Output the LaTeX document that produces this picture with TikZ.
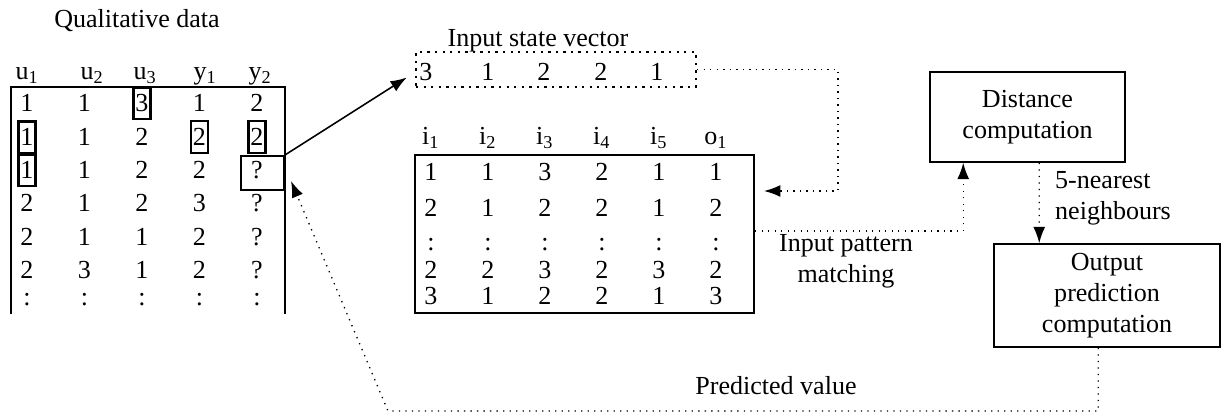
\documentclass[tikz,border=0pt]{standalone}
\usepackage{fontspec}
\setmainfont{Liberation Serif}
\usetikzlibrary{arrows.meta,fit}
\tikzset{>={Latex[length=2.2mm,width=1.6mm]}}
\tikzstyle{cell}=[inner sep=0pt,anchor=base]
\tikzstyle{markbox}=[draw,thick,inner sep=0pt,minimum width=0.23cm,minimum height=0.43cm]
\tikzstyle{tablebox}=[thick,inner sep=0pt]
\tikzstyle{procbox}=[draw,semithick,inner sep=0pt,align=center]
\tikzstyle{dotline}=[dotted,line width=0.5pt]

\begin{document}
\begin{tikzpicture}[x=0.0135cm,y=-0.0135cm]
    \useasboundingbox (0,0) rectangle (1221,415);

    % qualitative data table
    \node[anchor=base] (qtitle) at (137,28) {Qualitative data};
    \foreach \h/\s [count=\c] in {u/1,u/2,u/3,y/1,y/2} {
        \pgfmathsetmacro{\hx}{{15,80,133,193,248}[\c-1]}
        \node[cell,anchor=base west] (qh\c) at (\hx,80) {\h\textsubscript{\s}};
    };
    \foreach \y/\row [count=\r] in {112/{1,1,3,1,2},146/{1,1,2,2,2},179/{1,1,2,2,?},
        212/{2,1,2,3,?},246/{2,1,1,2,?},279/{2,3,1,2,?},306/{:,:,:,:,:}} {
        \foreach \v [count=\c] in \row {
            \node[cell] (q\r\c) at ({27+57.5*(\c-1)},\y) {\v};
        };
    };
    \node[tablebox,fit={(12,88) (284,313)}] (qtab) {};
    \draw[tablebox] (qtab.south west) |- (qtab.north east) -- (qtab.south east);
    \foreach \n in {q13,q21,q24,q25,q31} {
        \node[markbox] (m\n) at (\n) {};
    };
    \node[markbox,fit={(241,156) (284,190)}] (qbox) {};

    % input state vector
    \node[draw,dotted,line width=0.9pt,inner sep=0pt,fit={(416,52) (696,87)}] (svec) {};
    \node[anchor=base] (svtitle) at (538,47) {Input state vector};
    \foreach \v/\x [count=\c] in {3/426,1/488,2/544,2/601,1/657} {
        \node[cell] (s\c) at (\x,81) {\v};
    };

    % pattern table
    \foreach \h/\s [count=\c] in {i/1,i/2,i/3,i/4,i/5,o/1} {
        \node[cell] (ph\c) at ({431+57*(\c-1)},145) {\h\textsubscript{\s}};
    };
    \foreach \y/\row [count=\r] in {181/{1,1,3,2,1,1},217/{2,1,2,2,1,2},251/{:,:,:,:,:,:},
        279/{2,2,3,2,3,2},305/{3,1,2,2,1,3}} {
        \foreach \v [count=\c] in \row {
            \node[cell] (p\r\c) at ({431+57*(\c-1)},\y) {\v};
        };
    };
    \node[draw,tablebox,fit={(415,155) (754,313)}] (ptab) {};

    % processing boxes
    \node[procbox,minimum width=2.6325cm,minimum height=1.215cm] (dist) at (1027.5,117) {Distance\\computation};
    \node[procbox,minimum width=3.051cm,minimum height=1.3905cm] (outb) at (1107,295.5) {Output\\prediction\\computation};

    \node[align=center] (pmatch) at (846,261) {Input pattern\\matching};
    \node[align=left,anchor=west] (knn) at (1046,198) {5-nearest\\neighbours};
    \node[anchor=base] (pvlabel) at (776,395) {Predicted value};

    % connectors
    \draw[->,semithick] (qbox.north east) -- ([shift={(-8,8)}]svec.west);
    \draw[->,dotline] (svec.east) -| ([shift={(83,-43)}]ptab.east) -- ([shift={(9,-43)}]ptab.east);
    \draw[->,dotline] ([shift={(0,-3)}]ptab.east) -| ([shift={(34,0)}]dist.south west);
    \draw[->,dotline] ([shift={(110,0)}]dist.south west) -- ([shift={(46,0)}]outb.north west);
    \coordinate (pv) at (388,411);
    \draw[->,dotline] ([shift={(105,0)}]outb.south west) |- (pv) -- ([shift={(6,-10)}]qbox.south east);
\end{tikzpicture}
\end{document}
